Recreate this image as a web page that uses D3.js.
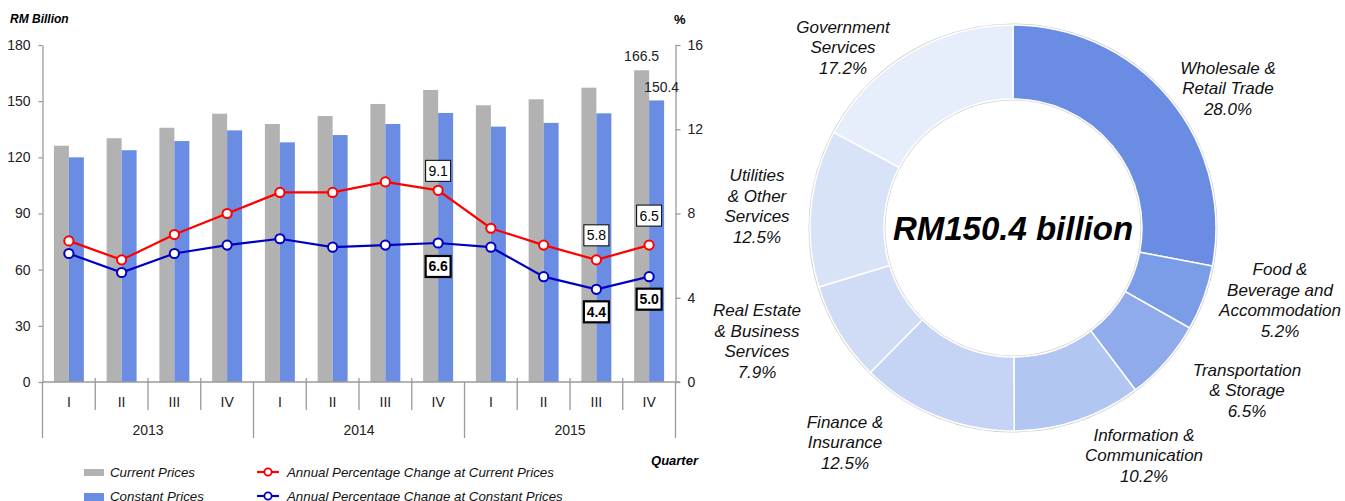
<!DOCTYPE html>
<html>
<head>
<meta charset="utf-8">
<script src="https://cdn.jsdelivr.net/npm/d3@7"></script>
<style>
  body { margin: 0; background: #fff; }
  svg { display: block; }
</style>
</head>
<body>
<svg id="chart" width="1345" height="501"></svg>
<script>
// ---- data ----
var years = ["2013", "2014", "2015"];
var quarters = ["I", "II", "III", "IV"];
var currentPrices = [126.2, 130.2, 135.8, 143.3, 137.8, 142.1, 148.5, 156.0, 147.8, 151.0, 157.2, 166.5];
var constantPrices = [120.0, 123.8, 128.7, 134.4, 128.0, 131.9, 137.8, 143.7, 136.4, 138.4, 143.5, 150.4];
var pctCurrent = [6.7, 5.8, 7.0, 8.0, 9.0, 9.0, 9.5, 9.1, 7.3, 6.5, 5.8, 6.5];
var pctConstant = [6.1, 5.2, 6.1, 6.5, 6.8, 6.4, 6.5, 6.6, 6.4, 5.0, 4.4, 5.0];
var leftTicks = [0, 30, 60, 90, 120, 150, 180];
var rightTicks = [0, 4, 8, 12, 16];
var labelled = [7, 10, 11];

var sectorLines = [
  ["Wholesale &", "Retail Trade"],
  ["Food &", "Beverage and", "Accommodation"],
  ["Transportation", "& Storage"],
  ["Information &", "Communication"],
  ["Finance &", "Insurance"],
  ["Real Estate", "& Business", "Services"],
  ["Utilities", "& Other", "Services"],
  ["Government", "Services"]
];
var shares = [28.0, 5.2, 6.5, 10.2, 12.5, 7.9, 12.5, 17.2];
var sectorColors = ["#6a8de3", "#7b9de7", "#8fabeb", "#b2c6f2", "#c5d4f5", "#d0dcf6", "#d9e3f8", "#e6edfb"];
var pieTotal = "RM150.4 billion";

// label layout (offsets from donut centre)
var pieLabelPos = [[215, -140], [267, 72], [234, 162], [131, 227], [-168, 214], [-256, 113], [-256, -22], [-170, -181]];
var redLabelDy = [-20, -25, -30];
var blueLabelDy = [23, 22, 22];

var NARROW = "'Liberation Sans Narrow','Arial Narrow',sans-serif";
var SANS = "'Liberation Sans',Arial,sans-serif";

var svg = d3.select("#chart");

// ---- bar / line chart ----
var idx = d3.range(currentPrices.length);
var x = d3.scaleBand().domain(idx).range([42.5, 675.5]).padding(0);
var xs = d3.scaleBand().domain(["cur", "con"]).range([0, x.bandwidth()]).paddingInner(0).paddingOuter(0.76);
var yL = d3.scaleLinear().domain([0, 180]).range([382, 45]);
var yR = d3.scaleLinear().domain([0, 16]).range([382, 45]);

var g = svg.append("g");

// bars
g.selectAll("rect.cur").data(currentPrices).enter().append("rect")
  .attr("x", function (d, i) { return x(i) + xs("cur"); })
  .attr("y", function (d) { return yL(d); })
  .attr("width", xs.bandwidth())
  .attr("height", function (d) { return yL(0) - yL(d); })
  .attr("fill", "#b2b2b2");
g.selectAll("rect.con").data(constantPrices).enter().append("rect")
  .attr("x", function (d, i) { return x(i) + xs("con"); })
  .attr("y", function (d) { return yL(d); })
  .attr("width", xs.bandwidth())
  .attr("height", function (d) { return yL(0) - yL(d); })
  .attr("fill", "#6a8de3");

// axes
var axL = g.append("g").attr("transform", "translate(42.5,0)")
  .call(d3.axisLeft(yL).tickValues(leftTicks).tickSize(4).tickSizeOuter(0).tickPadding(8));
var axR = g.append("g").attr("transform", "translate(675.5,0)")
  .call(d3.axisRight(yR).tickValues(rightTicks).tickSize(5).tickSizeOuter(0).tickPadding(7));
[axL, axR].forEach(function (a) {
  a.select(".domain").attr("stroke", "#9a9a9a").attr("stroke-width", 1.3);
  a.selectAll(".tick line").attr("stroke", "#9a9a9a").attr("stroke-width", 1.3);
  a.selectAll("text").attr("font-family", NARROW).attr("font-size", 14).attr("fill", "#222");
});

// category axis
g.append("line").attr("x1", 42.5).attr("x2", 680).attr("y1", 382).attr("y2", 382)
  .attr("stroke", "#9a9a9a").attr("stroke-width", 1.3);
d3.range(currentPrices.length + 1).forEach(function (i) {
  var xp = i < currentPrices.length ? x(i) : x.range()[1];
  var isYear = i % quarters.length === 0;
  g.append("line").attr("x1", xp).attr("x2", xp)
    .attr("y1", isYear ? 382 : 378).attr("y2", isYear ? 438 : 410)
    .attr("stroke", "#9a9a9a").attr("stroke-width", 1.3);
});
g.selectAll("text.q").data(idx).enter().append("text")
  .attr("x", function (i) { return x(i) + x.bandwidth() / 2; })
  .attr("y", 407)
  .attr("text-anchor", "middle")
  .attr("font-family", NARROW).attr("font-size", 14).attr("fill", "#222")
  .text(function (i) { return quarters[i % quarters.length]; });
g.selectAll("text.yr").data(years).enter().append("text")
  .attr("x", function (d, j) { return x(j * 4) + x.bandwidth() * 2; })
  .attr("y", 435)
  .attr("text-anchor", "middle")
  .attr("font-family", NARROW).attr("font-size", 14).attr("fill", "#222")
  .text(function (d) { return d; });

// axis titles
g.append("text").attr("x", 10).attr("y", 23).text("RM Billion")
  .attr("font-family", NARROW).attr("font-size", 12).attr("font-weight", "bold").attr("font-style", "italic");
g.append("text").attr("x", 674).attr("y", 24).text("%")
  .attr("font-family", NARROW).attr("font-size", 13).attr("font-weight", "bold");
g.append("text").attr("x", 698).attr("y", 465).attr("text-anchor", "end").text("Quarter")
  .attr("font-family", NARROW).attr("font-size", 13).attr("font-weight", "bold").attr("font-style", "italic");

// lines
function drawLine(vals, color) {
  var line = d3.line()
    .x(function (d, i) { return x(i) + x.bandwidth() / 2; })
    .y(function (d) { return yR(d); });
  g.append("path").datum(vals).attr("d", line)
    .attr("fill", "none").attr("stroke", color).attr("stroke-width", 2.2);
  g.selectAll(null).data(vals).enter().append("circle")
    .attr("cx", function (d, i) { return x(i) + x.bandwidth() / 2; })
    .attr("cy", function (d) { return yR(d); })
    .attr("r", 4.6)
    .attr("fill", "#fff").attr("stroke", color).attr("stroke-width", 2);
}
drawLine(pctCurrent, "#ff0000");
drawLine(pctConstant, "#0000c0");

// value boxes
function valueBox(i, v, dy, bold) {
  var cx = x(i) + x.bandwidth() / 2, cy = yR(v) + dy;
  g.append("rect").attr("x", cx - 12.5).attr("y", cy - 10).attr("width", 25).attr("height", 21)
    .attr("fill", "#fff").attr("stroke", "#000").attr("stroke-width", bold ? 2.2 : 1);
  g.append("text").attr("x", cx).attr("y", cy + 5.5).attr("text-anchor", "middle")
    .attr("font-family", NARROW).attr("font-size", 14).attr("font-weight", bold ? "bold" : "normal")
    .text(v.toFixed(1));
}
labelled.forEach(function (i, k) {
  valueBox(i, pctCurrent[i], redLabelDy[k], false);
  valueBox(i, pctConstant[i], blueLabelDy[k], true);
});

// bar labels on last quarter
var last = currentPrices.length - 1;
g.append("text").attr("x", x(last) + xs("cur") + xs.bandwidth() / 2).attr("y", yL(currentPrices[last]) - 9)
  .attr("text-anchor", "middle").attr("font-family", NARROW).attr("font-size", 14).attr("fill", "#222")
  .text(currentPrices[last].toFixed(1));
g.append("text").attr("x", x(last) + xs("con") + xs.bandwidth() / 2 + 5).attr("y", yL(constantPrices[last]) - 8)
  .attr("text-anchor", "middle").attr("font-family", NARROW).attr("font-size", 14).attr("fill", "#222")
  .text(constantPrices[last].toFixed(1));

// legend
var lg = svg.append("g").attr("font-family", SANS).attr("font-size", 13.3).attr("font-style", "italic").attr("fill", "#111");
lg.append("rect").attr("x", 84).attr("y", 469).attr("width", 20).attr("height", 7).attr("fill", "#b2b2b2");
lg.append("text").attr("x", 110).attr("y", 477).text("Current Prices");
lg.append("rect").attr("x", 84).attr("y", 493).attr("width", 20).attr("height", 8).attr("fill", "#6a8de3");
lg.append("text").attr("x", 110).attr("y", 500.5).text("Constant Prices");
[["#ff0000", 472, 477, "Annual Percentage Change at Current Prices"],
 ["#0000c0", 496, 500.5, "Annual Percentage Change at Constant Prices"]].forEach(function (r) {
  lg.append("line").attr("x1", 257).attr("x2", 279).attr("y1", r[1]).attr("y2", r[1])
    .attr("stroke", r[0]).attr("stroke-width", 2.2);
  lg.append("circle").attr("cx", 268).attr("cy", r[1]).attr("r", 3.6)
    .attr("fill", "#fff").attr("stroke", r[0]).attr("stroke-width", 1.8);
  lg.append("text").attr("x", 287).attr("y", r[2]).text(r[3]);
});

// ---- donut ----
var cx = 1013, cy = 228, rOut = 203, rIn = 129;
var pg = svg.append("g").attr("transform", "translate(" + cx + "," + cy + ")");
var pie = d3.pie().sort(null).value(function (d) { return d; });
var arc = d3.arc().innerRadius(rIn).outerRadius(rOut);
pg.append("circle").attr("r", rOut + 0.5).attr("fill", "none").attr("stroke", "#cfcfcf").attr("stroke-width", 2);
pg.append("circle").attr("r", rIn - 0.5).attr("fill", "none").attr("stroke", "#d5d5d5").attr("stroke-width", 2);
pg.selectAll("path").data(pie(shares)).enter().append("path")
  .attr("d", arc)
  .attr("fill", function (d, i) { return sectorColors[i]; })
  .attr("stroke", "#fff").attr("stroke-width", 1.5);

pg.append("text").attr("x", 0).attr("y", 12).attr("text-anchor", "middle")
  .attr("font-family", SANS).attr("font-size", 33).attr("font-weight", "bold").attr("font-style", "italic")
  .attr("fill", "#000").text(pieTotal);

sectorLines.forEach(function (lines, i) {
  var all = lines.concat([shares[i].toFixed(1) + "%"]);
  var p = pieLabelPos[i];
  var t = pg.append("text").attr("text-anchor", "middle")
    .attr("font-family", SANS).attr("font-size", 17).attr("font-style", "italic").attr("fill", "#111");
  var top = p[1] - (all.length - 1) * 20.5 / 2 + 6;
  all.forEach(function (s, k) {
    t.append("tspan").attr("x", p[0]).attr("y", top + k * 20.5).text(s);
  });
});
</script>
</body>
</html>
